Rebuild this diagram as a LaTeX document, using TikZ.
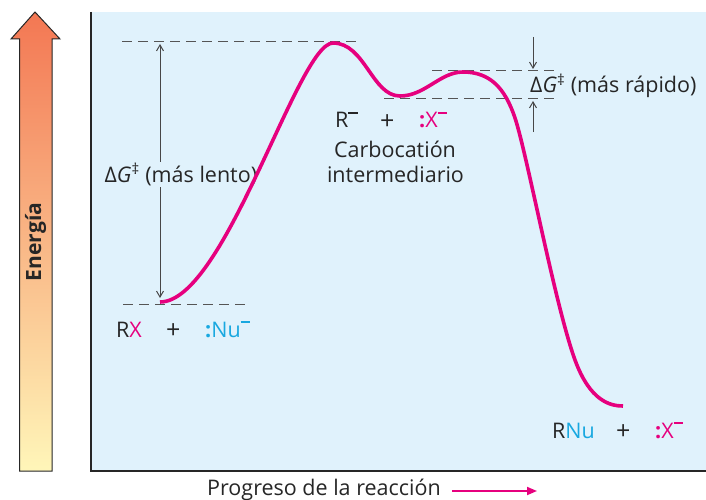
\documentclass[tikz,border=0pt]{standalone}
\usepackage{fontspec}
\setmainfont{Open Sans}
\usetikzlibrary{arrows.meta}
\definecolor{mag}{HTML}{E6007E}
\definecolor{cyn}{HTML}{18A8E0}
\definecolor{panel}{HTML}{E0F2FC}
\definecolor{ink}{HTML}{262626}
\definecolor{dashc}{HTML}{555555}
\definecolor{arrtop}{HTML}{F37753}
\definecolor{arrbot}{HTML}{FFF6B9}
\newcommand\supm{\raisebox{0.66em}{\rule{0.42em}{0.075em}}}
\newcommand\lp{{\bfseries :}}
\newcommand\dG{Δ\textit{G}\textsuperscript{‡}}
\begin{document}
\begin{tikzpicture}[x=1pt,y=-1pt, font=\fontsize{21.5}{25}\selectfont,
  level/.style={dashc, line width=1pt, dash pattern=on 10pt off 6pt},
  gaparrow/.style={ink!85, line width=1pt, -{Straight Barb[length=6pt,width=7pt]}},
  lbl/.style={anchor=base west, inner sep=0pt, text=ink},
  plus/.style={lbl, font=\fontsize{25}{28}\selectfont},
  ]
\useasboundingbox (0,0) rectangle (706,500);
% panel
\fill[panel] (91,12) rectangle (706,471);
\draw[ink, line width=1.3pt] (91,12) -- (91,471) -- (706,471);
% energy arrow
\shade[top color=arrtop, bottom color=arrbot] (19.5,471) -- (19.5,39) -- (11,39) -- (35,12) -- (60,39) -- (52,39) -- (52,471) -- cycle;
\draw[ink, line width=1pt, line join=miter] (19.5,471) -- (19.5,39) -- (11,39) -- (35,12) -- (60,39) -- (52,39) -- (52,471) -- cycle;
\node[rotate=90, text=ink, font=\fontsize{21}{24}\selectfont\bfseries] (energia) at (35.5,242) {Energía};
% levels
\coordinate (l1a) at (122,42);  \coordinate (l1b) at (358,42);
\coordinate (l2a) at (123,304); \coordinate (l2b) at (245,304);
\coordinate (l3a) at (384,99);  \coordinate (l3b) at (555,99);
\coordinate (l4a) at (432,71);  \coordinate (l4b) at (555,71);
\draw[level] (l1a) -- (l1b);
\draw[level] (l2a) -- (l2b);
\draw[level] (l3a) -- (l3b);
\draw[level] (l4a) -- (l4b);
% slow barrier arrows
\coordinate (sm) at (160,175);
\coordinate (stop) at (160,44);
\coordinate (sbot) at (160,298);
\draw[gaparrow] (sm) -- (stop);
\draw[gaparrow] (sm) -- (sbot);
\node[anchor=base west, inner sep=1.5pt, fill=panel, text=ink] (slow) at (103,182) {\dG\ (más lento)};
% fast barrier arrows
\coordinate (f1) at (533,37);  \coordinate (f1e) at (533,69);
\coordinate (f2) at (533,132); \coordinate (f2e) at (533,101);
\draw[gaparrow] (f1) -- (f1e);
\draw[gaparrow] (f2) -- (f2e);
\node[lbl] (fast) at (530,93) {\dG\ (más rápido)};
% curve
\draw[mag, line width=3.6pt] (160,302) .. controls (225,302) and (298,43) .. (333,43)
  .. controls (365,43) and (372,96) .. (400,96)
  .. controls (425,96) and (440,72) .. (463,72)
  .. controls (490,72) and (505,88) .. (515,118)
  .. controls (527,154) and (555,305) .. (575,360)
  .. controls (590,401) and (610,406) .. (623,406);
% labels
\node[lbl] (rx) at (116,337) {R\textcolor{mag}{X}};
\node[plus] (p1) at (166,338) {+};
\node[lbl, text=cyn] (nu) at (205,337) {\lp Nu\supm};
\node[lbl] (rp) at (335,128) {R\supm};
\node[plus] (p2) at (380,129) {+};
\node[lbl, text=mag] (x1) at (419,128) {\lp X\supm};
\node[anchor=base, inner sep=0pt, text=ink] (carbo) at (395,157) {Carbocatión};
\node[anchor=base, inner sep=0pt, text=ink] (inter) at (395.5,182) {intermediario};
\node[lbl] (rnu) at (552,438) {R\textcolor{cyn}{Nu}};
\node[plus] (p3) at (616,439) {+};
\node[lbl, text=mag] (x2) at (655,438) {\lp X\supm};
% progress
\node[lbl] (prog) at (207,495) {Progreso de la reacción};
\coordinate (pa) at (452,491);
\coordinate (pb) at (537,491);
\draw[mag, line width=1.8pt, -{Triangle[length=10pt,width=8pt]}] (pa) -- (pb);
\end{tikzpicture}
\end{document}
